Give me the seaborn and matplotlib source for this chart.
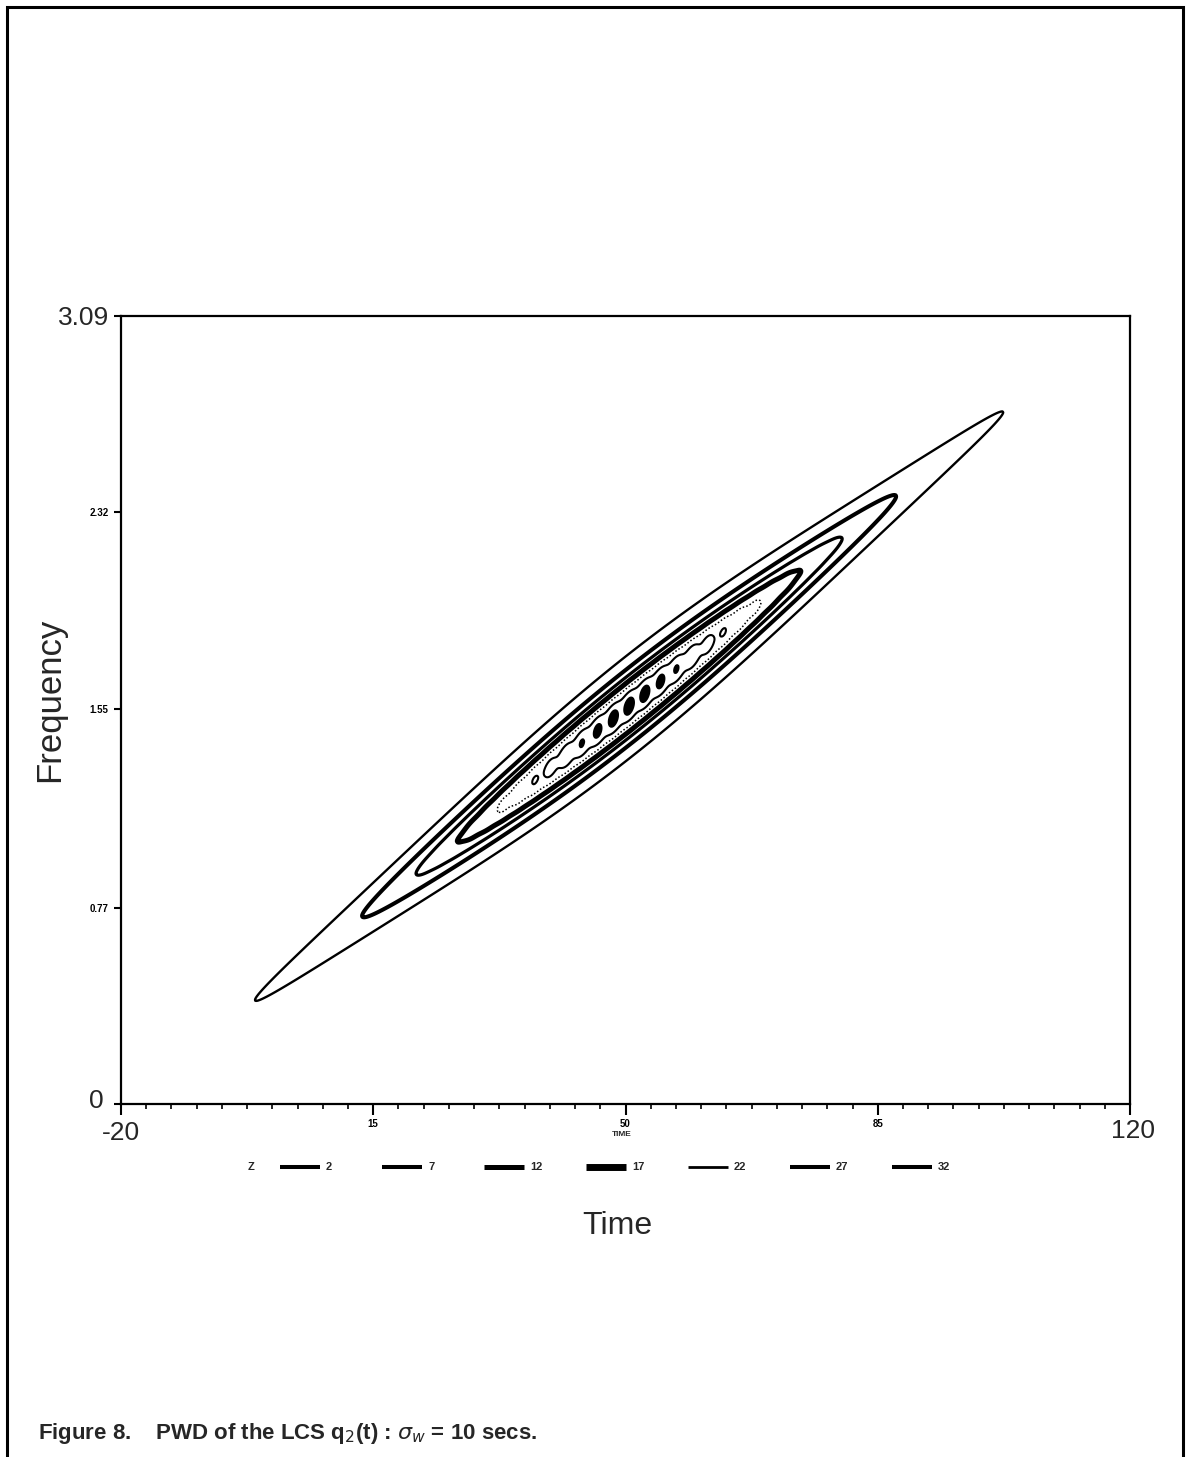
import numpy as np
import matplotlib
matplotlib.use("Agg")
import matplotlib.pyplot as plt
import seaborn as sns
from matplotlib.lines import Line2D
from matplotlib.patches import Rectangle

# ---------------- data ----------------
contour_levels = [2, 7, 12, 17, 22, 27, 32]
level_labels = ["2", "7", "12", "17", "22", "27", "32"]
peak_value = 31.0            # PWD peak on the ridge (core)
tail_value = 1.6             # weak long tail along the ridge
ripple_amp = 1.9             # interference ripple along the ridge
ripple_period = 2.2          # secs
ripple_extent = 14.0         # secs over which the ripple is seen
ridge_time = 50.5            # centre of the chirp (secs)
ridge_freq = 1.56            # centre frequency
chirp_rate = 0.0222          # frequency change per sec
time_spread = 20.3           # spread along the ridge (secs)
tail_spread = 45.0           # spread of the tail (secs)
freq_spread = 0.087          # spread across the ridge at the centre
freq_spread_decay = 50.0     # secs over which the cross width halves
x_ticks = [-20, 15, 50, 85, 120]
x_ticklabels = ["-20", "15", "50", "85", "120"]
y_ticks = [0, 0.77, 1.55, 2.32, 3.09]
y_ticklabels = ["0", "0.77", "1.55", "2.32", "3.09"]

line_widths = [1.7, 2.9, 2.3, 3.6, 1.1, 1.5, 1.6]
line_styles = ["solid", "solid", "solid", "solid", (0, (1, 1.4)), "solid", "solid"]
legend_widths = [2.9, 2.9, 3.6, 5.0, 2.0, 2.9, 2.9]

# ---------------- figure ----------------
sns.set_theme(style="white")
plt.rcParams["font.family"] = ["Liberation Sans", "DejaVu Sans"]

W, H = 1188, 1457
fig = plt.figure(figsize=(W / 100, H / 100), dpi=100)
fig.patch.set_facecolor("white")

def fx(px):
    return px / W

def fy(py):
    return 1 - py / H

ax = fig.add_axes([fx(121), fy(1104), fx(1130) - fx(121), fy(316) - fy(1104)])
ax.set_facecolor("white")

# PWD surface of the linear chirp
t = np.linspace(-20, 120, 901)
f = np.linspace(0, 3.09, 801)
T, F = np.meshgrid(t, f)
dt = T - ridge_time
df = F - (ridge_freq + chirp_rate * dt)
cross_width = freq_spread / (1 + (dt / freq_spread_decay) ** 2)
along = (peak_value * np.exp(-dt ** 2 / (2 * time_spread ** 2))
         + tail_value * np.exp(-dt ** 2 / (2 * tail_spread ** 2)))
ripple = (ripple_amp * np.cos(2 * np.pi * dt / ripple_period)
          * np.exp(-(dt / ripple_extent) ** 2)
          * np.exp(-df ** 2 / (2 * (0.45 * cross_width) ** 2)))
Z = (along + ripple) * np.exp(-df ** 2 / (2 * cross_width ** 2))

ax.contour(T, F, Z, levels=contour_levels, colors="black",
           linewidths=line_widths, linestyles=line_styles)
# the small highest-level islands print as solid blobs
ax.contourf(T, F, Z, levels=[contour_levels[-1], Z.max() + 1], colors="black")

ax.set_xlim(-20, 120)
ax.set_ylim(0, 3.09)
for s in ax.spines.values():
    s.set_visible(True)
    s.set_color("black")
    s.set_linewidth(1.6)

# ticks: small labels through the axis, the big end labels placed as in the print
ax.set_xticks(x_ticks)
ax.set_xticklabels([""] + x_ticklabels[1:-1] + [""])
ax.set_xticks(np.arange(-20, 120.01, 3.5), minor=True)
ax.set_yticks(y_ticks)
ax.set_yticklabels([""] + y_ticklabels[1:-1] + [""])
ax.tick_params(axis="x", which="major", direction="out", length=8, width=1.5,
               bottom=True, pad=3, colors="black", labelsize=7)
ax.tick_params(axis="x", which="minor", direction="out", length=3.5, width=1.2,
               bottom=True, colors="black")
ax.tick_params(axis="y", which="major", direction="out", length=5, width=1.5,
               left=True, pad=4, colors="black", labelsize=7)
for lab in ax.get_xticklabels() + ax.get_yticklabels():
    lab.set_fontweight("bold")
ax.grid(False)

fig.text(fx(121), fy(1133), x_ticklabels[0], fontsize=19, ha="center", va="center")
fig.text(fx(1133), fy(1131), x_ticklabels[-1], fontsize=19, ha="center", va="center")
fig.text(fx(104), fy(1101), y_ticklabels[0], fontsize=19, ha="right", va="center")
fig.text(fx(109), fy(318), y_ticklabels[-1], fontsize=19, ha="right", va="center")

ax.set_xlabel("TIME", fontsize=6, fontweight="bold", va="center")
ax.xaxis.set_label_coords(0.496, -(1134 - 1104) / 788)

# big axis titles
fig.text(fx(617), fy(1226), "Time", fontsize=23, ha="center", va="center")
fig.text(fx(50), fy(700), "Frequency", fontsize=25, ha="center", va="center", rotation=90)

# legend row
ly = fy(1167)
fig.text(fx(251), ly, "Z", fontsize=8, fontweight="bold", ha="center", va="center")
for i, lab in enumerate(level_labels):
    x0 = 280 + 102 * i
    fig.add_artist(Line2D([fx(x0), fx(x0 + 40)], [ly, ly], color="black",
                          lw=legend_widths[i], solid_capstyle="butt",
                          transform=fig.transFigure))
    fig.text(fx(x0 + 46), ly, lab, fontsize=8, fontweight="bold", ha="left", va="center")

# outer frame of the page figure
fig.add_artist(Rectangle((fx(7), fy(1500)), fx(1183) - fx(7), fy(7) - fy(1500),
                         fill=False, edgecolor="black", lw=2.2,
                         transform=fig.transFigure))

# caption
fig.text(fx(38), fy(1433), r"Figure 8.    PWD of the LCS q$_2$(t) : $\sigma_w$ = 10 secs.",
         fontsize=16, fontweight="bold", ha="left", va="center")

fig.savefig("out.png", dpi=100, facecolor="white")
